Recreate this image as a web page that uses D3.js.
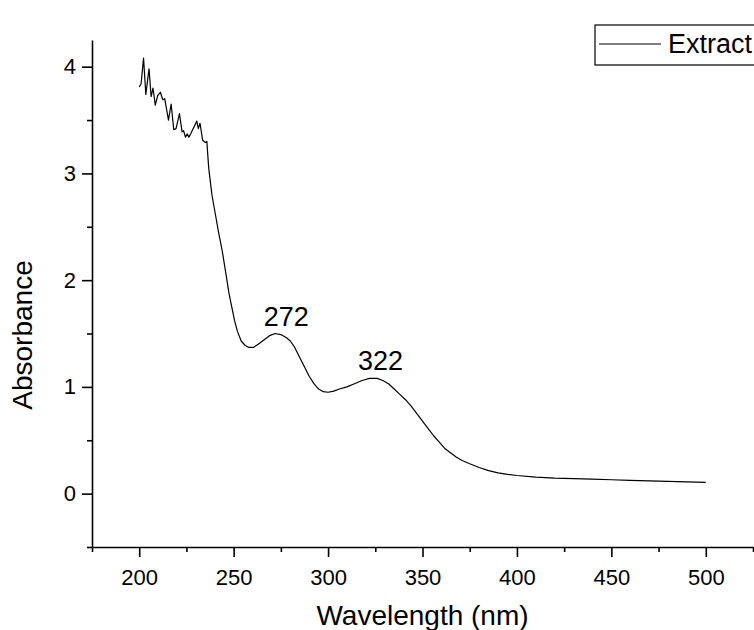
<!DOCTYPE html>
<html>
<head>
<meta charset="utf-8">
<script src="https://cdn.jsdelivr.net/npm/d3@7"></script>
<style>
  body { margin: 0; background: #fff; overflow: hidden; }
  svg { display: block; font-family: Arial, "Liberation Sans", sans-serif; }
</style>
</head>
<body>
<div id="chart"></div>
<script>
// UV-Vis spectrum of the extract
const wavelength = [
  200, 201, 202.3, 203.5, 205.2, 206.3, 207.3, 208.5, 209.8, 211.2,
  212.5, 213.5, 215.5, 216.9, 218.3, 219.5, 221.3, 222.7, 223.5, 224.5,
  225.5, 226.3, 227.2, 230.5, 231.3, 232.2, 233.6, 235, 235.8, 236.8,
  238.5, 240.3, 242, 243.9, 246, 247.5, 249, 250.5, 252, 254,
  256, 258, 260.5, 263, 266, 269, 272, 275, 278, 280,
  282, 284, 286, 288, 290, 292.5, 295, 297.5, 300, 303,
  306, 310, 314, 318, 322, 326, 329, 332, 335, 338,
  341, 344, 347, 350, 353, 356, 359, 362, 365, 368,
  371, 375, 380, 385, 390, 395, 400, 410, 420, 430,
  440, 450, 460, 470, 480, 490, 500,
];
const absorbance = [
  3.81, 3.84, 4.08, 3.74, 3.98, 3.72, 3.8, 3.64, 3.73, 3.76,
  3.69, 3.7, 3.5, 3.65, 3.41, 3.42, 3.56, 3.39, 3.4, 3.34,
  3.37, 3.34, 3.37, 3.49, 3.42, 3.47, 3.31, 3.29, 3.3, 3.05,
  2.8, 2.62, 2.45, 2.28, 2.05, 1.88, 1.75, 1.62, 1.52, 1.43,
  1.39, 1.37, 1.37, 1.4, 1.44, 1.48, 1.5, 1.49, 1.46, 1.43,
  1.38, 1.31, 1.24, 1.17, 1.1, 1.03, 0.98, 0.955, 0.95, 0.96,
  0.98, 1.0, 1.03, 1.06, 1.08, 1.08, 1.06, 1.03, 0.98, 0.93,
  0.88, 0.82, 0.75, 0.68, 0.61, 0.54, 0.48, 0.42, 0.38, 0.34,
  0.31, 0.28, 0.245, 0.215, 0.195, 0.18, 0.17, 0.155, 0.145, 0.14,
  0.135, 0.13, 0.125, 0.12, 0.115, 0.11, 0.105,
];
const xTicks = [200, 250, 300, 350, 400, 450, 500];
const yTicks = [0, 1, 2, 3, 4];
const peaks = [
  { label: "272", x: 272, y: 1.5 },
  { label: "322", x: 322, y: 1.08 },
];
const seriesName = "Extract";

const width = 754;
const height = 630;
const margin = { top: 40, right: 1, bottom: 83, left: 92 };
const majorTick = 10;
const minorTick = 5;

const x = d3.scaleLinear().domain([175, 525]).range([margin.left, width - margin.right]);
const y = d3.scaleLinear().domain([-0.5, 4.25]).range([height - margin.bottom, margin.top]);

const svg = d3.select("#chart").append("svg")
  .attr("width", width)
  .attr("height", height)
  .attr("viewBox", [0, 0, width, height]);

// axes: minor ticks first, then majors with labels
const gX = svg.append("g").attr("transform", `translate(0,${height - margin.bottom})`);
gX.append("g")
  .call(d3.axisBottom(x).tickValues(d3.range(175, 526, 50)).tickSize(minorTick).tickFormat(""))
  .call((g) => g.select(".domain").remove());
gX.append("g")
  .call(d3.axisBottom(x).tickValues(xTicks).tickSize(majorTick).tickSizeOuter(0).tickPadding(12))
  .call((g) => g.selectAll("text").attr("font-size", 22).attr("fill", "#000"));

const gY = svg.append("g").attr("transform", `translate(${margin.left},0)`);
gY.append("g")
  .call(d3.axisLeft(y).tickValues([-0.5, 0.5, 1.5, 2.5, 3.5]).tickSize(minorTick).tickFormat(""))
  .call((g) => g.select(".domain").remove());
gY.append("g")
  .call(d3.axisLeft(y).tickValues(yTicks).tickSize(majorTick).tickSizeOuter(0).tickPadding(6)
    .tickFormat(d3.format("d")))
  .call((g) => g.selectAll("text").attr("font-size", 22).attr("fill", "#000"));

svg.selectAll(".domain, .tick line").attr("stroke", "#000").attr("stroke-width", 1.6);

svg.append("text")
  .attr("x", (margin.left + width - margin.right) / 2)
  .attr("y", 625)
  .attr("text-anchor", "middle")
  .attr("font-size", 28)
  .text("Wavelength (nm)");

svg.append("text")
  .attr("transform", "translate(32,335) rotate(-90)")
  .attr("text-anchor", "middle")
  .attr("font-size", 28)
  .text("Absorbance");

const line = d3.line()
  .x((d, i) => x(wavelength[i]))
  .y((d) => y(d));

svg.append("path")
  .datum(absorbance)
  .attr("fill", "none")
  .attr("stroke", "#000")
  .attr("stroke-width", 1.2)
  .attr("stroke-linejoin", "round")
  .attr("d", line);

svg.selectAll(".peak-label")
  .data(peaks)
  .join("text")
  .attr("class", "peak-label")
  .attr("x", (d) => x(d.x) + 11)
  .attr("y", (d) => y(d.y) - 8)
  .attr("text-anchor", "middle")
  .attr("font-size", 27)
  .text((d) => d.label);

// legend box, runs past the right edge like the source
const legend = svg.append("g").attr("transform", "translate(595,25)");
legend.append("rect")
  .attr("width", 220)
  .attr("height", 40)
  .attr("fill", "#fff")
  .attr("stroke", "#000")
  .attr("stroke-width", 1.2);
legend.append("line")
  .attr("x1", 4).attr("x2", 66)
  .attr("y1", 19).attr("y2", 19)
  .attr("stroke", "#000")
  .attr("stroke-width", 1.2);
legend.append("text")
  .attr("x", 73)
  .attr("y", 28)
  .attr("font-size", 27)
  .text(seriesName);
</script>
</body>
</html>
